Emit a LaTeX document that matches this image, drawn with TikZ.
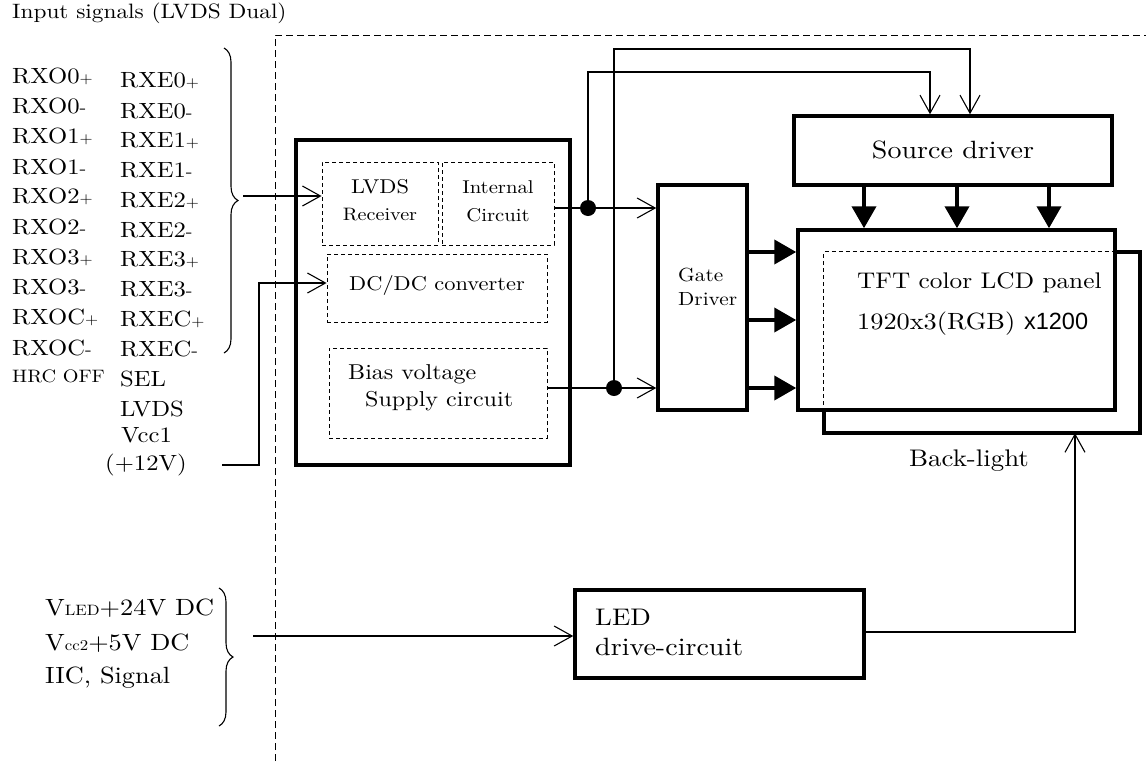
\documentclass[tikz,border=0pt]{standalone}
\usepackage{fontspec}
\setmainfont{lmroman10-regular.otf}[FakeStretch=1.12]
\newfontfamily\sansf{Liberation Sans}
\usetikzlibrary{arrows.meta,decorations.pathreplacing,calc}
\newcommand{\myfs}[1]{\fontsize{#1}{#1}\selectfont}
\newcommand{\pl}{{\myfs{15}+}}
\newcommand{\mi}{{\myfs{18}-}}
\begin{document}
\begin{tikzpicture}[x=1pt,y=-1pt,
  txt/.style={inner sep=0pt,anchor=west,font=\myfs{22}},
  ctxt/.style={inner sep=0pt,anchor=center},
  thickbox/.style={draw,line width=3.5pt,inner sep=0pt},
  dashbox/.style={draw,line width=0.9pt,dash pattern=on 4pt off 3pt,inner sep=0pt},
  conn/.style={line width=1.1pt},
  openarrow/.style={conn,-{Straight Barb[length=18pt,width=20pt]}},
  fatarrow/.style={line width=4pt,-{Triangle[length=22pt,width=24pt]}},
  bracestyle/.style={decorate,decoration={brace,amplitude=14pt},line width=1.1pt},
  boundary/.style={line width=1pt,dash pattern=on 7pt off 4pt},
  dot/.style={circle,fill=black,inner sep=0pt,minimum size=16pt}]
\useasboundingbox (0,0) rectangle (1146,761);

% title
\node[txt,font=\myfs{20.8}] (title) at (12,13) {Input signals (LVDS Dual)};

% boundary
\coordinate (bdA) at (275,761);
\coordinate (bdB) at (275,35);
\coordinate (bdC) at (1146,35);
\draw[boundary] (bdA) -- (bdB) -- (bdC);

% left signal columns
\foreach \t [count=\i] in {RXO0\pl,RXO0\mi,RXO1\pl,RXO1\mi,RXO2\pl,RXO2\mi,RXO3\pl,RXO3\mi,RXOC\pl,RXOC\mi}
  \node[txt] (rxo\i) at (12,{76+(\i-1)*30.2}) {\t};
\node[txt,font=\myfs{18}] (hrc) at (12,376) {HRC OFF};
\foreach \t [count=\i] in {RXE0\pl,RXE0\mi,RXE1\pl,RXE1\mi,RXE2\pl,RXE2\mi,RXE3\pl,RXE3\mi,RXEC\pl,RXEC\mi,SEL,LVDS}
  \node[txt] (rxe\i) at (120,{81+(\i-1)*29.8}) {\t};
\node[txt] (vcc1) at (121,435) {Vcc1};
\node[txt] (p12) at (105,465) {(+12V)};

% braces
\coordinate (br1a) at (224,48);
\coordinate (br1b) at (224,353);
\draw[bracestyle] (br1a) -- (br1b);
\coordinate (br2a) at (219,588);
\coordinate (br2b) at (219,726);
\draw[bracestyle] (br2a) -- (br2b);

% main board
\node[thickbox,minimum width=274pt,minimum height=325pt] (main) at (433,302.5) {};
\node[dashbox,minimum width=116pt,minimum height=83pt] (lvds) at (380,203.5) {};
\node[ctxt,font=\myfs{20}] (lvdsA) at (380,187) {LVDS};
\node[ctxt,font=\myfs{18}] (lvdsB) at (380,215) {Receiver};
\node[dashbox,minimum width=112pt,minimum height=83pt] (intc) at (498,203.5) {};
\node[ctxt,font=\myfs{18.5}] (intcA) at (498,187) {Internal};
\node[ctxt,font=\myfs{18.5}] (intcB) at (498,215) {Circuit};
\node[dashbox,minimum width=220pt,minimum height=68pt] (dcdc) at (437,288) {};
\node[ctxt,font=\myfs{20}] (dcdcT) at (437,285) {DC/DC converter};
\node[dashbox,minimum width=218pt,minimum height=90pt] (bias) at (438,393) {};
\node[txt,font=\myfs{21.5}] (biasA) at (348,374) {Bias voltage};
\node[txt,font=\myfs{21.5}] (biasB) at (365,401) {Supply circuit};

% gate driver
\node[thickbox,minimum width=89pt,minimum height=225pt] (gate) at (702.5,297.5) {};
\node[txt,font=\myfs{19}] (gateA) at (678,275) {Gate};
\node[txt,font=\myfs{19}] (gateB) at (678,299) {Driver};

% source driver
\node[thickbox,minimum width=318pt,minimum height=69pt] (src) at (953,150.5) {};
\node[ctxt,font=\myfs{25}] (srcT) at (953,150) {Source driver};

% backlight (behind)
\node[inner sep=0pt,minimum width=316pt,minimum height=181pt] (bl) at (982,342.5) {};
% tft panel
\node[thickbox,minimum width=317pt,minimum height=180pt] (tft) at (956.5,320) {};
\draw[dashbox] (bl.south west |- tft.south) -- (bl.north west) -- (bl.north -| tft.east);
\draw[line width=3.5pt] (bl.north -| tft.east) -- (bl.north east) -- (bl.south east) -- (bl.south west) -- (bl.south west |- tft.south);
\node[txt,font=\myfs{22.6}] (tftA) at (857,283) {TFT color LCD panel};
\node[txt,font=\myfs{23.5}] (tftB) at (857,324) {1920x3(RGB) {\sansf\myfs{23.5}x1200}};
\node[ctxt,font=\myfs{24}] (blT) at (969,461) {Back-light};

% LED drive
\node[thickbox,minimum width=289pt,minimum height=88pt] (led) at (719.5,634) {};
\node[txt,font=\myfs{24}] (ledA) at (595,617) {LED};
\node[txt,font=\myfs{25}] (ledB) at (595,647) {drive-circuit};

% bottom-left inputs
\node[txt,font=\myfs{23.5}] (vled) at (45,608) {V{\myfs{15}LED}+24V DC};
\node[txt,font=\myfs{23.5}] (vcc2) at (45,643) {V{\myfs{15}cc2}+5V DC};
\node[txt,font=\myfs{23.5}] (iic) at (45,678) {IIC, Signal};

% connectors
\coordinate (in1) at (243,196);
\draw[openarrow] (in1) -- (in1 -| lvds.west);
\coordinate (vccS) at (222,465);
\coordinate (vccC) at (259,283);
\draw[openarrow] (vccS) -| (vccC) -- (vccC -| dcdc.west);

\node[dot] (d1) at (588,208) {};
\node[dot] (d2) at (614,388) {};
\draw[conn] (intc.east |- d1) -- (d1.center);
\draw[openarrow] (d1.center) -- (d1 -| gate.west);
\draw[conn] (bias.east |- d2) -- (d2.center);
\draw[openarrow] (d2.center) -- (d2 -| gate.west);
\coordinate (s1) at (930,72);
\coordinate (s2) at (970,49);
\draw[openarrow] (d1.center) |- (s1) -- (s1 |- src.north);
\draw[openarrow] (d2.center) |- (s2) -- (s2 |- src.north);

\foreach \x [count=\i] in {864,957,1049}
  \draw[fatarrow] (src.south -| \x,0) -- (tft.north -| \x,0);
\foreach \y [count=\i] in {252,320,388}
  \draw[fatarrow] (gate.east |- 0,\y) -- (tft.west |- 0,\y);

\coordinate (ledC) at (1075,632);
\draw[openarrow] (led.east |- ledC) -- (ledC) -- (ledC |- bl.south);
\coordinate (in2) at (253,636);
\draw[openarrow] (in2) -- (in2 -| led.west);
\end{tikzpicture}
\end{document}
